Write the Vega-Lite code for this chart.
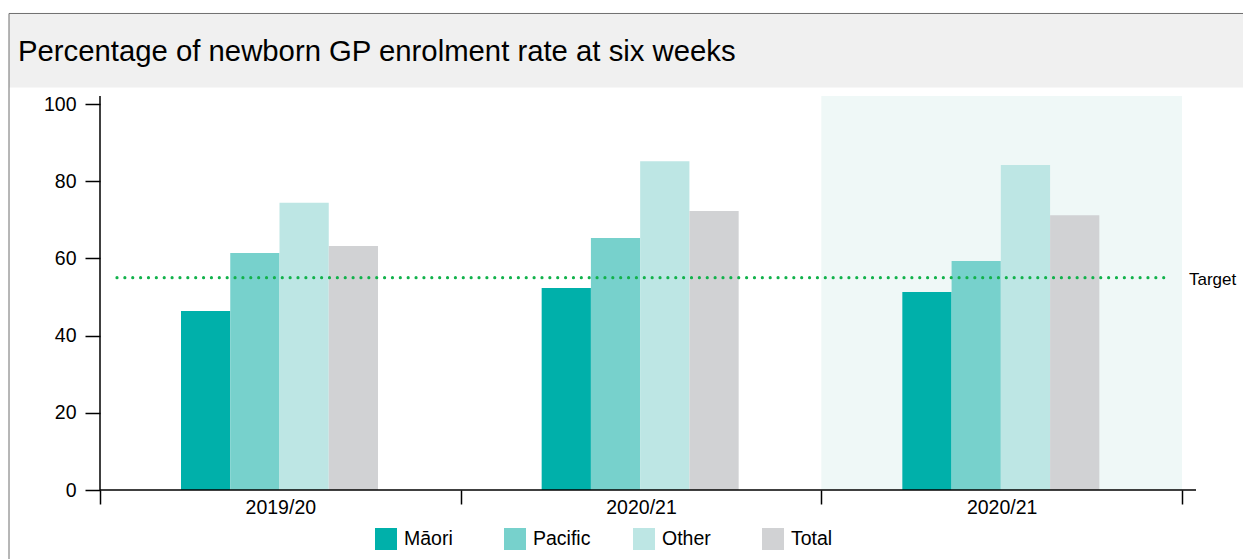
{
  "$schema": "https://vega.github.io/schema/vega-lite/v6.json",
  "autosize": "none",
  "width": 1240,
  "height": 560,
  "padding": {"left": 9, "top": 13, "right": 0, "bottom": 0},
  "background": "white",
  "view": {"stroke": null, "fill": "white"},
  "config": {
    "font": "Liberation Sans",
    "axis": {"labelFont": "Liberation Sans", "labelColor": "black"},
    "legend": {"labelFont": "Liberation Sans", "labelColor": "black"}
  },
  "datasets": {
    "bars": [
      {"period": "P1", "group": "Māori", "value": 46.4},
      {"period": "P1", "group": "Pacific", "value": 61.4},
      {"period": "P1", "group": "Other", "value": 74.4},
      {"period": "P1", "group": "Total", "value": 63.2},
      {"period": "P2", "group": "Māori", "value": 52.3},
      {"period": "P2", "group": "Pacific", "value": 65.3},
      {"period": "P2", "group": "Other", "value": 85.2},
      {"period": "P2", "group": "Total", "value": 72.3},
      {"period": "P3", "group": "Māori", "value": 51.3},
      {"period": "P3", "group": "Pacific", "value": 59.3},
      {"period": "P3", "group": "Other", "value": 84.2},
      {"period": "P3", "group": "Total", "value": 71.2}
    ],
    "shade": [{"period": "P3", "top": 102.1}],
    "header": [{"top": 123.58, "bottom": 104.3, "title": "Percentage of newborn GP enrolment rate at six weeks"}],
    "target": [{"start": 17, "end": 1066, "target": 55, "label": "Target", "labelAt": 1089}],
    "frame": [{"x0": 0, "xEnd": 1096, "y0": 0, "yTop": 102.1}],
    "border": [{"left": -91, "right": 1200, "top": 123.45, "bottom": -40}]
  },
  "layer": [
    {
      "data": {"name": "header"},
      "mark": {"type": "rect", "color": "#f0f0f0"},
      "encoding": {
        "y": {"field": "top", "type": "quantitative", "scale": {"domain": [0, 100], "range": [477, 91], "nice": false, "zero": false}},
        "y2": {"field": "bottom"}
      }
    },
    {
      "data": {"name": "header"},
      "mark": {"type": "text", "align": "left", "baseline": "alphabetic", "fontSize": 29.3, "font": "Liberation Sans", "color": "black"},
      "encoding": {
        "x": {"datum": -82, "type": "quantitative", "scale": {"domain": [0, 1082], "range": [91, 1173], "nice": false, "zero": false}, "axis": null},
        "y": {"datum": 111.14, "type": "quantitative"},
        "text": {"field": "title"}
      }
    },
    {
      "data": {"name": "shade"},
      "mark": {"type": "rect", "color": "#eff8f7"},
      "encoding": {
        "x": {"field": "period", "type": "nominal", "scale": {"domain": ["P1", "P2", "P3"], "range": [91, 1173], "paddingInner": 0, "paddingOuter": 0}, "axis": null},
        "y": {"field": "top", "type": "quantitative"},
        "y2": {"datum": 0}
      }
    },
    {
      "data": {"name": "bars"},
      "mark": {"type": "bar"},
      "encoding": {
        "x": {
          "field": "period", "type": "nominal",
          "scale": {"domain": ["P1", "P2", "P3"], "range": [91, 1173], "paddingInner": 0, "paddingOuter": 0},
          "axis": {
            "title": null, "orient": "bottom", "offset": -83,
            "labelExpr": "datum.value == 'P1' ? '2019/20' : ((datum.value == 'P2' || datum.value == 'P3') ? '2020/21' : '')",
            "labelAngle": 0, "labelFontSize": 19.5, "labelPadding": -6,
            "tickBand": "extent", "tickSize": 14, "tickWidth": 1.5, "tickColor": "black",
            "domain": false, "grid": false
          }
        },
        "xOffset": {"field": "group", "type": "nominal", "scale": {"domain": ["Māori", "Pacific", "Other", "Total"], "range": [81, 278], "paddingInner": 0, "paddingOuter": 0}},
        "y": {
          "field": "value", "type": "quantitative",
          "axis": {
            "title": null, "orient": "left", "offset": -91,
            "values": [0, 20, 40, 60, 80, 100],
            "labelFontSize": 19.5, "labelPadding": 9,
            "tickSize": 15, "tickWidth": 1.5, "tickColor": "black",
            "domain": false, "grid": false
          }
        },
        "color": {
          "field": "group", "type": "nominal",
          "scale": {"domain": ["Māori", "Pacific", "Other", "Total"], "range": ["#00b0aa", "#77d1cc", "#bde6e4", "#d1d2d4"]},
          "legend": {
            "title": null, "orient": "none", "legendX": 366, "legendY": 515,
            "direction": "horizontal", "columns": 4, "gridAlign": "all", "columnPadding": 42,
            "symbolType": "square", "symbolSize": 484, "symbolStrokeWidth": 0,
            "labelFontSize": 19.5, "labelOffset": 7, "padding": 0
          }
        }
      }
    },
    {
      "data": {"name": "target"},
      "mark": {"type": "rule", "color": "#12b24b", "strokeWidth": 3.2, "strokeDash": [0, 7.87], "strokeCap": "round"},
      "encoding": {
        "x": {"field": "start", "type": "quantitative", "scale": {"domain": [0, 1082], "range": [91, 1173], "nice": false, "zero": false}, "axis": null},
        "x2": {"field": "end"},
        "y": {"field": "target", "type": "quantitative"}
      }
    },
    {
      "data": {"name": "target"},
      "mark": {"type": "text", "align": "left", "baseline": "middle", "fontSize": 17, "font": "'Liberation Sans Narrow', 'Liberation Sans', sans-serif", "color": "black", "dy": 2},
      "encoding": {
        "x": {"field": "labelAt", "type": "quantitative", "scale": {"domain": [0, 1082], "range": [91, 1173], "nice": false, "zero": false}, "axis": null},
        "y": {"field": "target", "type": "quantitative"},
        "text": {"field": "label"}
      }
    },
    {
      "data": {"name": "frame"},
      "mark": {"type": "rule", "color": "black", "strokeWidth": 1.5},
      "encoding": {
        "x": {"field": "x0", "type": "quantitative", "scale": {"domain": [0, 1082], "range": [91, 1173], "nice": false, "zero": false}, "axis": null},
        "x2": {"field": "xEnd"},
        "y": {"field": "y0", "type": "quantitative"}
      }
    },
    {
      "data": {"name": "frame"},
      "mark": {"type": "rule", "color": "black", "strokeWidth": 1.5},
      "encoding": {
        "x": {"field": "x0", "type": "quantitative", "scale": {"domain": [0, 1082], "range": [91, 1173], "nice": false, "zero": false}, "axis": null},
        "y": {"field": "y0", "type": "quantitative"},
        "y2": {"field": "yTop"}
      }
    },
    {
      "data": {"name": "border"},
      "mark": {"type": "rule", "color": "#6f6f6f", "strokeWidth": 1},
      "encoding": {
        "x": {"field": "left", "type": "quantitative", "scale": {"domain": [0, 1082], "range": [91, 1173], "nice": false, "zero": false}, "axis": null},
        "y": {"field": "top", "type": "quantitative"},
        "y2": {"field": "bottom"}
      }
    },
    {
      "data": {"name": "border"},
      "mark": {"type": "rule", "color": "#6f6f6f", "strokeWidth": 1},
      "encoding": {
        "x": {"field": "left", "type": "quantitative", "scale": {"domain": [0, 1082], "range": [91, 1173], "nice": false, "zero": false}, "axis": null},
        "x2": {"field": "right"},
        "y": {"field": "top", "type": "quantitative"}
      }
    }
  ],
  "resolve": {"scale": {"x": "independent"}}
}
